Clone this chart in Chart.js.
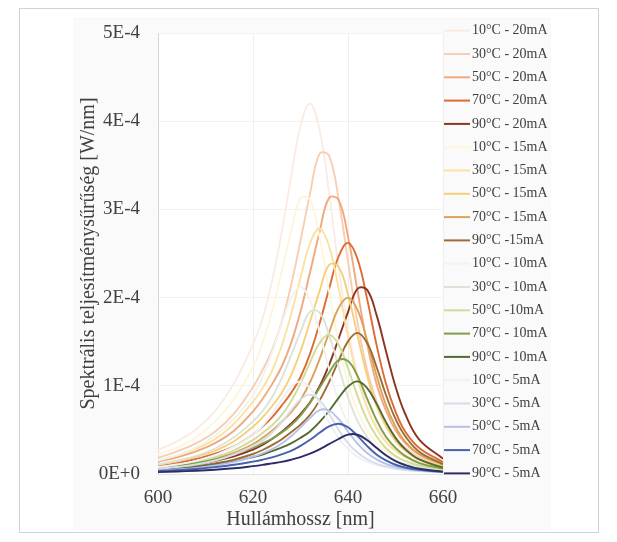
<!DOCTYPE html>
<html>
<head>
<meta charset="utf-8">
<script src="https://cdn.jsdelivr.net/npm/chart.js@4/dist/chart.umd.min.js"></script>
<style>
  html, body { margin: 0; padding: 0; background: #ffffff; }
  #wrap { width: 617px; height: 542px; }
</style>
</head>
<body>
<div id="wrap"><canvas id="c" width="617" height="542"></canvas></div>
<script>
// Wavelength grid [nm]
const wavelengths = [600,604,608,612,616,620,622,624,626,628,630,632,634,636,638,640,642,644,646,648,650,652,655,660];

// Spectral power density, in units of 1E-4 W/nm
// 20 mA
const t10_20mA = [0.273,0.370,0.504,0.714,1.029,1.470,1.764,2.184,2.730,3.360,3.948,4.200,3.906,3.192,2.352,1.638,1.134,0.777,0.546,0.399,0.294,0.218,0.160,0.101];
const t30_20mA = [0.183,0.256,0.347,0.478,0.684,0.986,1.177,1.405,1.716,2.135,2.646,3.176,3.630,3.610,3.121,2.409,1.716,1.186,0.830,0.575,0.411,0.301,0.190,0.110];
const t50_20mA = [0.139,0.189,0.257,0.350,0.491,0.709,0.851,1.016,1.213,1.481,1.843,2.284,2.741,3.130,3.110,2.693,2.079,1.481,1.024,0.717,0.496,0.354,0.221,0.120];
const t70_20mA = [0.092,0.123,0.170,0.231,0.314,0.445,0.537,0.642,0.773,0.917,1.100,1.362,1.703,2.096,2.463,2.620,2.437,1.991,1.467,1.022,0.707,0.485,0.295,0.136];
const t90_20mA = [0.064,0.080,0.106,0.148,0.200,0.276,0.329,0.396,0.475,0.570,0.680,0.812,0.992,1.234,1.530,1.836,2.100,2.090,1.804,1.393,0.992,0.686,0.390,0.174];
// 15 mA
const t10_15mA = [0.221,0.299,0.413,0.591,0.851,1.213,1.481,1.843,2.284,2.741,3.130,3.110,2.693,2.079,1.481,1.024,0.717,0.496,0.354,0.260,0.192,0.148,0.107,0.069];
const t30_15mA = [0.153,0.209,0.284,0.395,0.570,0.820,0.973,1.168,1.446,1.807,2.224,2.613,2.780,2.585,2.113,1.557,1.084,0.751,0.514,0.361,0.264,0.195,0.131,0.078];
const t50_15mA = [0.105,0.143,0.194,0.264,0.371,0.536,0.643,0.768,0.916,1.119,1.392,1.726,2.071,2.370,2.350,2.035,1.571,1.119,0.774,0.541,0.375,0.268,0.167,0.090];
const t70_15mA = [0.070,0.094,0.130,0.176,0.240,0.340,0.410,0.490,0.590,0.700,0.840,1.040,1.300,1.600,1.880,2.000,1.860,1.520,1.120,0.780,0.540,0.370,0.225,0.104];
const t90_15mA = [0.051,0.066,0.088,0.120,0.163,0.227,0.272,0.328,0.392,0.472,0.560,0.672,0.832,1.040,1.280,1.504,1.600,1.488,1.216,0.896,0.624,0.432,0.252,0.112];
// 10 mA
const t10_10mA = [0.159,0.216,0.301,0.435,0.625,0.890,1.102,1.378,1.696,1.993,2.120,1.972,1.611,1.187,0.827,0.572,0.392,0.276,0.201,0.148,0.110,0.089,0.064,0.042];
const t30_10mA = [0.111,0.151,0.205,0.289,0.416,0.597,0.712,0.870,1.082,1.341,1.610,1.840,1.830,1.582,1.221,0.870,0.601,0.421,0.291,0.208,0.153,0.113,0.078,0.048];
const t50_10mA = [0.074,0.103,0.139,0.190,0.269,0.387,0.466,0.553,0.664,0.822,1.027,1.264,1.485,1.580,1.469,1.201,0.885,0.616,0.427,0.292,0.205,0.150,0.096,0.054];
const t70_10mA = [0.070,0.091,0.122,0.165,0.222,0.298,0.346,0.400,0.468,0.553,0.663,0.806,0.975,1.147,1.290,1.280,1.112,0.858,0.611,0.423,0.296,0.205,0.124,0.061];
const t90_10mA = [0.046,0.061,0.080,0.105,0.143,0.193,0.221,0.260,0.299,0.347,0.410,0.483,0.588,0.714,0.861,0.992,1.050,0.977,0.798,0.588,0.410,0.284,0.165,0.074];
// 5 mA
const t10_5mA = [0.079,0.107,0.149,0.215,0.310,0.441,0.546,0.683,0.840,0.987,1.050,0.977,0.798,0.588,0.410,0.284,0.194,0.137,0.100,0.074,0.055,0.044,0.032,0.021];
const t30_5mA = [0.059,0.079,0.108,0.153,0.221,0.315,0.378,0.468,0.585,0.720,0.846,0.900,0.837,0.684,0.504,0.351,0.243,0.167,0.117,0.086,0.063,0.047,0.034,0.022];
const t50_5mA = [0.037,0.051,0.069,0.096,0.137,0.197,0.235,0.281,0.343,0.427,0.529,0.635,0.725,0.720,0.624,0.482,0.343,0.237,0.166,0.115,0.082,0.060,0.038,0.022];
const t70_5mA = [0.033,0.043,0.057,0.078,0.105,0.141,0.162,0.188,0.222,0.262,0.319,0.388,0.467,0.539,0.570,0.530,0.433,0.319,0.222,0.154,0.105,0.074,0.047,0.024];
const t90_5mA = [0.021,0.028,0.037,0.049,0.065,0.089,0.103,0.120,0.138,0.162,0.191,0.230,0.279,0.338,0.397,0.447,0.445,0.385,0.297,0.212,0.146,0.102,0.059,0.027];

const seriesLabels = [
  "10°C - 20mA","30°C - 20mA","50°C - 20mA","70°C - 20mA","90°C - 20mA",
  "10°C - 15mA","30°C - 15mA","50°C - 15mA","70°C - 15mA","90°C -15mA",
  "10°C - 10mA","30°C - 10mA","50°C -10mA","70°C - 10mA","90°C - 10mA",
  "10°C - 5mA","30°C - 5mA","50°C - 5mA","70°C - 5mA","90°C - 5mA"
];
const seriesValues = [
  t10_20mA, t30_20mA, t50_20mA, t70_20mA, t90_20mA,
  t10_15mA, t30_15mA, t50_15mA, t70_15mA, t90_15mA,
  t10_10mA, t30_10mA, t50_10mA, t70_10mA, t90_10mA,
  t10_5mA, t30_5mA, t50_5mA, t70_5mA, t90_5mA
];
const seriesColors = [
  '#fcebe4','#f8cdb4','#f0a87e','#dc6b34','#8c3420',
  '#fef5da','#fbe2a3','#f5d07a','#dba25a','#9d6c34',
  '#f0f4ec','#dde3d7','#cfdd98','#7e9f48','#536a33',
  '#eff1f8','#d8dce7','#b8c0e6','#4662ab','#2c2c68'
];

const xTicks = [600, 620, 640, 660];
const yTicks = [0, 1, 2, 3, 4, 5];

const SERIF = "'Liberation Serif', 'Times New Roman', serif";
const TEXT = '#404040';

const datasets = seriesValues.map((vals, i) => ({
  label: seriesLabels[i],
  data: wavelengths.map((w, k) => ({ x: w, y: vals[k] })),
  borderColor: seriesColors[i],
  backgroundColor: seriesColors[i],
  borderWidth: 1.9,
  pointRadius: 0,
  tension: 0.4,
  fill: false,
  order: seriesValues.length - 1 - i
}));

// Panel background, white plot area and outer frame
const panelPlugin = {
  id: 'panel',
  beforeDraw(chart) {
    const ctx = chart.ctx;
    const a = chart.chartArea;
    ctx.save();
    ctx.fillStyle = '#ffffff';
    ctx.fillRect(0, 0, chart.width, chart.height);
    ctx.fillStyle = '#fafafa';
    ctx.fillRect(73, 17, 478, 514);
    ctx.fillStyle = '#ffffff';
    ctx.fillRect(a.left, a.top, a.right - a.left, a.bottom - a.top);
    ctx.strokeStyle = '#d2d2d2';
    ctx.lineWidth = 1;
    ctx.strokeRect(19.5, 8.5, 579, 524);
    ctx.restore();
  }
};

// Series key on the right
const keyPlugin = {
  id: 'seriesKey',
  afterDraw(chart) {
    const ctx = chart.ctx;
    ctx.save();
    ctx.font = "14px " + SERIF;
    ctx.textAlign = 'left';
    ctx.textBaseline = 'middle';
    chart.data.datasets.forEach((ds, i) => {
      const y = 30.7 + i * 23.3;
      ctx.strokeStyle = ds.borderColor;
      ctx.lineWidth = 2;
      ctx.beginPath();
      ctx.moveTo(444, y);
      ctx.lineTo(470, y);
      ctx.stroke();
      ctx.fillStyle = TEXT;
      ctx.fillText(ds.label, 472, y);
    });
    ctx.restore();
  }
};

new Chart(document.getElementById('c'), {
  type: 'line',
  data: { datasets },
  plugins: [panelPlugin, keyPlugin],
  options: {
    responsive: false,
    devicePixelRatio: 1,
    animation: false,
    layout: { padding: { left: 0, top: 33, right: 174, bottom: 0 } },
    plugins: { legend: { display: false }, tooltip: { enabled: false } },
    scales: {
      x: {
        type: 'linear',
        min: 600, max: 660,
        afterFit(scale) { scale.height = 68; },
        afterBuildTicks(scale) { scale.ticks = xTicks.map(v => ({ value: v })); },
        ticks: {
          padding: 13,
          color: TEXT,
          font: { family: SERIF, size: 19 },
          maxRotation: 0
        },
        grid: { color: '#efefef', drawTicks: false },
        border: { color: '#e2e2e2' },
        title: {
          display: true,
          text: 'Hullámhossz [nm]',
          color: TEXT,
          font: { family: SERIF, size: 20 },
          padding: { top: 0, bottom: 10 }
        }
      },
      y: {
        type: 'linear',
        min: 0, max: 5,
        afterFit(scale) { scale.width = 158; },
        afterBuildTicks(scale) { scale.ticks = yTicks.map(v => ({ value: v })); },
        ticks: {
          padding: 18,
          color: TEXT,
          font: { family: SERIF, size: 19 },
          callback: v => (v === 0 ? '0E+0' : v + 'E-4')
        },
        grid: { color: '#f2f2f2', drawTicks: false },
        border: { color: '#d6d6d6' },
        title: {
          display: true,
          text: 'Spektrális teljesítménysűrűség [W/nm]',
          color: TEXT,
          font: { family: SERIF, size: 20 },
          padding: { top: 77, bottom: 0 }
        }
      }
    }
  }
});
</script>
</body>
</html>
